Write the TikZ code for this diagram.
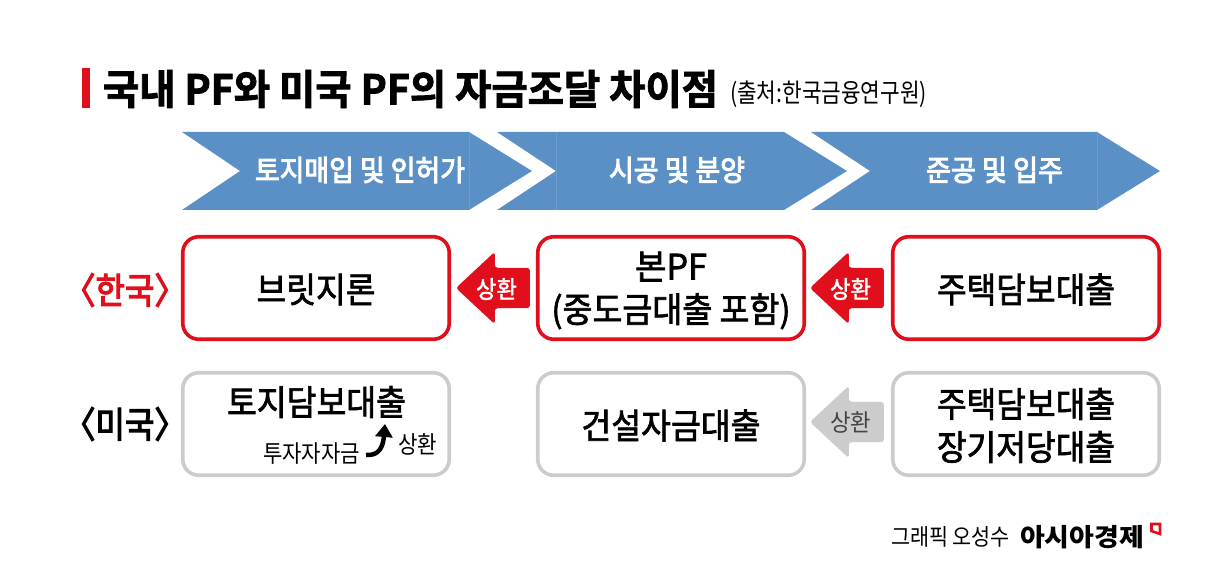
\documentclass[tikz,border=0pt]{standalone}
\usepackage{fontspec}
\usepackage{graphicx}
\setmainfont{Noto Sans CJK KR}
\newfontfamily\med[FakeBold=2]{Noto Sans CJK KR}
\newfontfamily\medx[FakeBold=3.5]{Noto Sans CJK KR}
\newfontfamily\heavy[FakeBold=2]{Noto Sans CJK KR Bold}
\usetikzlibrary{shapes.arrows,calc,arrows.meta}
\definecolor{chevblue}{HTML}{5A90C5}
\definecolor{chevline}{HTML}{6C9DCD}
\definecolor{krred}{HTML}{E00F1B}
\definecolor{usgray}{HTML}{CCCCCC}
\definecolor{graytext}{HTML}{444444}
\newsavebox\fitbox
\newdimen\fitdim
\newcommand\fit[3]{\sbox\fitbox{\fontsize{#2}{#2}\selectfont #3}\fitdim=\wd\fitbox\pgfmathsetmacro\fitr{#1/\fitdim}\scalebox{\fitr}[1]{\usebox\fitbox}}
\newcommand\dn[2]{\raisebox{-#1}[\height][\depth]{#2}}
\tikzset{
  txt/.style={inner sep=0pt,outer sep=0pt,anchor=center},
  chev/.style={fill=chevblue,draw=none},
  chevseam/.style={draw=chevline,line width=0.6pt},
  krbox/.style={draw=krred,line width=3.6pt,rounded corners=16pt,minimum width=266.5pt,minimum height=102.5pt,inner sep=0pt,align=center,fill=white},
  usbox/.style={draw=usgray,line width=3.6pt,rounded corners=16pt,minimum width=266.5pt,minimum height=102.5pt,inner sep=0pt,align=center,fill=white},
  payarrow/.style={single arrow,shape border rotate=180,minimum width=72pt,minimum height=74pt,single arrow head extend=16pt,single arrow tip angle=86,rounded corners=3pt,inner xsep=0pt,inner ysep=20pt,outer sep=0pt},
}
\begin{document}
\begin{tikzpicture}[x=1pt,y=-1pt]
\useasboundingbox (0,0) rectangle (1226,577);
% title
\fill[krred] (82,68) rectangle (90,108);
\node[txt] (title) at (410.5,89) {\fit{615}{41}{\heavy 국내 PF와 미국 PF의 자금조달 차이점}};
\node[txt] (source) at (828.5,94) {\fit{197}{26}{(출처:한국금융연구원)}};
% chevrons
\fill[chev] (182,132) -- (469,132) -- (532,171) -- (469,210) -- (182,210) -- (240,171) -- cycle;
\fill[chev] (497,132) -- (784,132) -- (847,171) -- (784,210) -- (497,210) -- (556,171) -- cycle;
\fill[chev] (811,132) -- (1097,132) -- (1160,171) -- (1097,210) -- (811,210) -- (870,171) -- cycle;
\draw[chevseam] (469,132) -- (469,210);
\draw[chevseam] (556,132) -- (556,210);
\draw[chevseam] (1097,132) -- (1097,210);
\node[txt,text=white] (s1) at (360,170) {\fit{210}{29}{\medx 토지매입 및 인허가}};
\node[txt,text=white] (s2) at (677,170) {\fit{136}{29}{\medx 시공 및 분양}};
\node[txt,text=white] (s3) at (994.5,170) {\fit{137}{29}{\medx 준공 및 입주}};
% row labels
\node[txt,text=krred] (kr) at (125,290) {\fit{123}{36}{\medx 〈한국〉}};
\node[txt] (us) at (125,424) {\fit{123}{36}{\medx 〈미국〉}};
% Korea row
\node[krbox,font=\fontsize{35}{41}\selectfont] (k1) at (316,288) {\dn{1.5pt}{\fit{119}{35}{\med 브릿지론}}};
\node[krbox,font=\fontsize{35}{43}\selectfont] (k2) at (671,288) {\dn{2.5pt}{\fit{72}{35}{\med 본PF}}\\\dn{2.5pt}{\fit{239}{35}{\med (중도금대출 포함)}}};
\node[krbox,font=\fontsize{35}{41}\selectfont] (k3) at (1026,288) {\dn{1.5pt}{\fit{178}{35}{\med 주택담보대출}}};
% US row
\node[usbox] (u1) at (316,424) {};
\node[usbox,font=\fontsize{35}{41}\selectfont] (u2) at (671,424) {\dn{1.5pt}{\fit{179}{35}{\med 건설자금대출}}};
\node[usbox,font=\fontsize{35}{43}\selectfont] (u3) at (1026,424) {\dn{1.5pt}{\fit{178}{35}{\med 주택담보대출}}\\\dn{1.5pt}{\fit{178}{35}{\med 장기저당대출}}};
\node[txt] (u1t) at (316.5,402) {\fit{179}{35}{\med 토지담보대출}};
\node[txt] (u1a) at (311.5,454) {\fit{97}{24}{투자자자금}};
\node[txt] (u1b) at (417.5,444) {\fit{39}{24}{상환}};
\coordinate (cs) at (366,455);
\coordinate (ce) at (385,424);
\draw[line width=4.5pt,-{Triangle[length=13pt,width=17pt]}] (cs) .. controls (379,456) and (383,447) .. (ce);
% repayment arrows
\node[payarrow,fill=krred,anchor=tip] (a1) at ($(k2.west)+(-80,0)$) {};
\node[payarrow,fill=krred,anchor=tip] (a2) at ($(k3.west)+(-81,0)$) {};
\node[payarrow,fill=usgray,anchor=tip] (a3) at ($(u3.west)+(-81,-2)$) {};
\node[txt,text=white] (a1t) at (496.5,289) {\fit{41}{24}{\med 상환}};
\node[txt,text=white] (a2t) at (850.5,289) {\fit{41}{24}{\med 상환}};
\node[txt,text=graytext] (a3t) at (850.5,422) {\fit{41}{24}{상환}};
% credit
\node[txt] (c1) at (950.5,537) {\fit{119}{23}{그래픽 오성수}};
\node[txt] (c2) at (1082,537) {\fit{124}{25}{\bfseries 아시아경제}};
\draw[krred,line width=2.6pt] (1151.5,524) -- (1160,524) -- (1160,534) -- (1151.5,531) -- cycle;
\end{tikzpicture}
\end{document}
